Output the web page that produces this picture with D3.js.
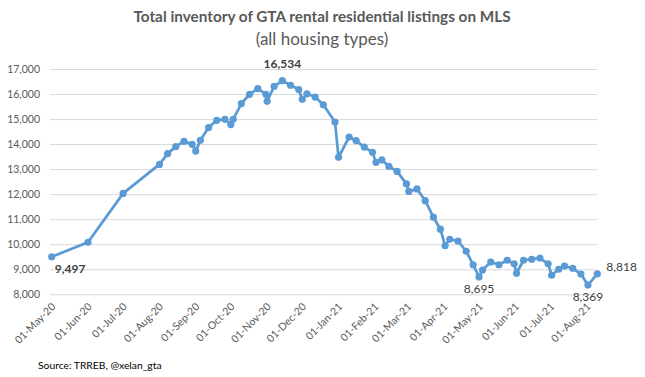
<!DOCTYPE html>
<html>
<head>
<meta charset="utf-8">
<script src="https://d3js.org/d3.v7.min.js"></script>
<style>
  body { margin: 0; background: #fff; }
  text { font-family: Lato, "Open Sans", sans-serif; }
</style>
</head>
<body>
<svg width="645" height="377"></svg>
<script>
// weekly snapshots (plus month starts)
var dates = [
  "2020-05-01","2020-06-01","2020-07-01","2020-08-01","2020-08-08","2020-08-15","2020-08-22",
  "2020-08-29","2020-09-01","2020-09-05","2020-09-12","2020-09-19","2020-09-26","2020-10-01",
  "2020-10-03","2020-10-10","2020-10-17","2020-10-24","2020-10-31","2020-11-01","2020-11-07",
  "2020-11-14","2020-11-21","2020-11-28","2020-12-01","2020-12-05","2020-12-12","2020-12-19",
  "2020-12-29","2021-01-01","2021-01-10","2021-01-16","2021-01-23","2021-01-30","2021-02-02",
  "2021-02-07","2021-02-13","2021-02-20","2021-02-28","2021-03-02","2021-03-09","2021-03-16",
  "2021-03-23","2021-03-29","2021-04-02","2021-04-06","2021-04-13","2021-04-20","2021-04-26",
  "2021-05-01","2021-05-04","2021-05-11","2021-05-18","2021-05-25","2021-05-31","2021-06-02",
  "2021-06-08","2021-06-15","2021-06-22","2021-06-29","2021-07-02","2021-07-08","2021-07-13",
  "2021-07-20","2021-07-27","2021-08-02","2021-08-10"
];
var listings = [
  9497,10080,12030,13190,13620,13900,14110,
  13990,13720,14150,14660,14950,14990,14780,
  14990,15620,15990,16220,15990,15710,16310,
  16534,16350,16180,15790,16010,15880,15570,
  14880,13470,14280,14140,13880,13670,13270,
  13370,13110,12910,12410,12110,12210,11740,
  11080,10600,9940,10200,10130,9720,9180,
  8695,8970,9290,9180,9360,9220,8840,
  9360,9400,9450,9220,8760,9000,9130,
  9040,8810,8369,8818
];
var yTicks = [8000,9000,10000,11000,12000,13000,14000,15000,16000,17000];
// labelled points: index into the series and where the label sits
var labelled = [
  {i: 0,  pos: "below-right"},
  {i: 21, pos: "above"},
  {i: 49, pos: "below"},
  {i: 65, pos: "below"},
  {i: 66, pos: "right"}
];

var parse = d3.timeParse("%Y-%m-%d");
var data = dates.map(function(d, i) { return {date: parse(d), value: listings[i]}; });

var svg = d3.select("svg");
var left = 50, right = 597;

var x = d3.scaleTime()
    .domain([parse("2020-05-01"), parse("2021-08-10")])
    .range([51.7, 597.3]);
var y = d3.scaleLinear()
    .domain([8000, 17000])
    .range([294.3, 69]);

// title
svg.append("text")
    .attr("x", 322).attr("y", 22)
    .attr("text-anchor", "middle")
    .attr("font-size", "15.3px").attr("font-weight", "bold")
    .attr("fill", "#595959")
    .text("Total inventory of GTA rental residential listings on MLS");
svg.append("text")
    .attr("x", 322).attr("y", 45)
    .attr("text-anchor", "middle")
    .attr("font-size", "17px")
    .attr("fill", "#595959")
    .text("(all housing types)");

// y axis + gridlines
var gy = svg.append("g")
    .attr("transform", "translate(" + left + ",0)")
    .call(d3.axisLeft(y).tickValues(yTicks).tickSize(-(right - left)).tickPadding(10).tickFormat(d3.format(",")));
gy.select(".domain").remove();
gy.selectAll("line").attr("stroke", "#d9d9d9").attr("stroke-width", 1);
gy.selectAll("text").attr("font-size", "10.5px").attr("fill", "#595959");

// x axis, month labels rotated
var gx = svg.append("g")
    .attr("transform", "translate(0," + y(8000) + ")")
    .call(d3.axisBottom(x).ticks(d3.timeMonth.every(1)).tickSize(0).tickFormat(d3.timeFormat("%d-%b-%y")));
gx.select(".domain").remove();
gx.selectAll("text")
    .attr("x", 0).attr("y", 0).attr("dy", 0)
    .attr("text-anchor", "end")
    .attr("transform", "translate(4,13) rotate(-45)")
    .attr("font-size", "10.5px")
    .attr("fill", "#595959");

// line + markers
var line = d3.line()
    .x(function(d) { return x(d.date); })
    .y(function(d) { return y(d.value); });

svg.append("path")
    .datum(data)
    .attr("fill", "none")
    .attr("stroke", "#5b9bd5")
    .attr("stroke-width", 2.75)
    .attr("stroke-linejoin", "round")
    .attr("d", line);

svg.selectAll(".dot")
    .data(data)
  .enter().append("circle")
    .attr("class", "dot")
    .attr("cx", function(d) { return x(d.date); })
    .attr("cy", function(d) { return y(d.value); })
    .attr("r", 3.6)
    .attr("fill", "#5b9bd5");

// data labels
var fmt = d3.format(",");
svg.selectAll(".lbl")
    .data(labelled)
  .enter().append("text")
    .attr("class", "lbl")
    .attr("font-size", "12px")
    .attr("fill", "#404040")
    .attr("font-weight", function(d) { return d.i < 22 ? "bold" : "normal"; })
    .attr("text-anchor", function(d) {
      return d.pos == "right" || d.pos == "below-right" ? "start" : "middle";
    })
    .attr("x", function(d) {
      var px = x(data[d.i].date);
      if (d.pos == "right") return px + 9;
      if (d.pos == "below-right") return px + 3;
      return px;
    })
    .attr("y", function(d) {
      var py = y(data[d.i].value);
      if (d.pos == "above") return py - 13;
      if (d.pos == "right") return py - 3;
      return py + 16;
    })
    .text(function(d) { return fmt(data[d.i].value); });

// source note
svg.append("text")
    .attr("x", 38).attr("y", 369)
    .attr("font-size", "10.3px")
    .attr("fill", "#000")
    .text("Source: TRREB, @xelan_gta");
</script>
</body>
</html>
